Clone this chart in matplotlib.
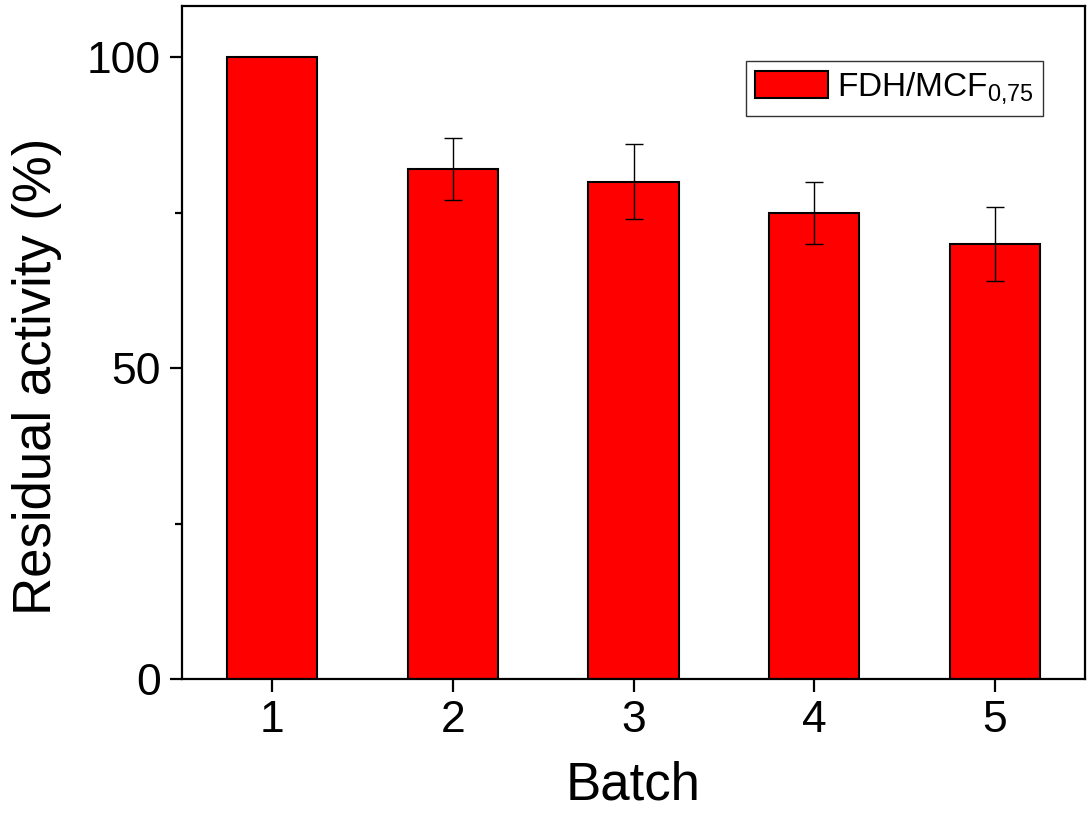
import matplotlib
matplotlib.use("Agg")
import matplotlib.pyplot as plt
from matplotlib.ticker import MultipleLocator

plt.rcParams["font.family"] = ["Liberation Sans", "DejaVu Sans"]
plt.rcParams["mathtext.fontset"] = "custom"
plt.rcParams["mathtext.rm"] = "Liberation Sans"
plt.rcParams["mathtext.it"] = "Liberation Sans"

# data
batches = [1, 2, 3, 4, 5]
activity = [100, 82, 80, 75, 70]
errors = [0, 5, 6, 5, 6]
series_label = "FDH/MCF$_{\\mathrm{0{,}75}}$"

fig = plt.figure(figsize=(10.9, 8.3), dpi=100)
ax = fig.add_axes([0.167, 0.182, 0.8284, 0.811])

ax.bar(batches, activity, width=0.5, color="#ff0000", edgecolor="black",
       linewidth=1.5, label=series_label, zorder=2)
err_b = [b for b, e in zip(batches, errors) if e > 0]
err_v = [v for v, e in zip(activity, errors) if e > 0]
err_e = [e for e in errors if e > 0]
ax.errorbar(err_b, err_v, yerr=err_e, fmt="none", ecolor="black",
            elinewidth=1.0, capsize=6.5, capthick=1.0, zorder=3)

ax.set_xlim(0.5, 5.5)
ax.set_ylim(0, 108.3)
ax.set_xticks(batches)
ax.yaxis.set_major_locator(MultipleLocator(50))
ax.yaxis.set_minor_locator(MultipleLocator(25))

for s in ax.spines.values():
    s.set_linewidth(1.6)
ax.tick_params(axis="both", which="major", direction="out", length=9,
               width=1.6, labelsize=32, pad=6)
ax.tick_params(axis="y", which="minor", direction="out", length=5, width=1.6)
ax.tick_params(axis="x", which="minor", bottom=False)

ax.set_xlabel("Batch", fontsize=38, labelpad=14)
ax.set_ylabel("Residual activity (%)", fontsize=38)
ax.yaxis.set_label_coords(-0.133, 0.45)

leg = ax.legend(loc="upper right", bbox_to_anchor=(0.9535, 0.918), fontsize=24,
                frameon=True, fancybox=False, shadow=False, borderaxespad=0,
                handlelength=2.2, handleheight=0.9, borderpad=0.28,
                handletextpad=0.25)
leg.get_frame().set_edgecolor("black")
leg.get_frame().set_linewidth(1.0)

fig.savefig("out.png", dpi=100)
